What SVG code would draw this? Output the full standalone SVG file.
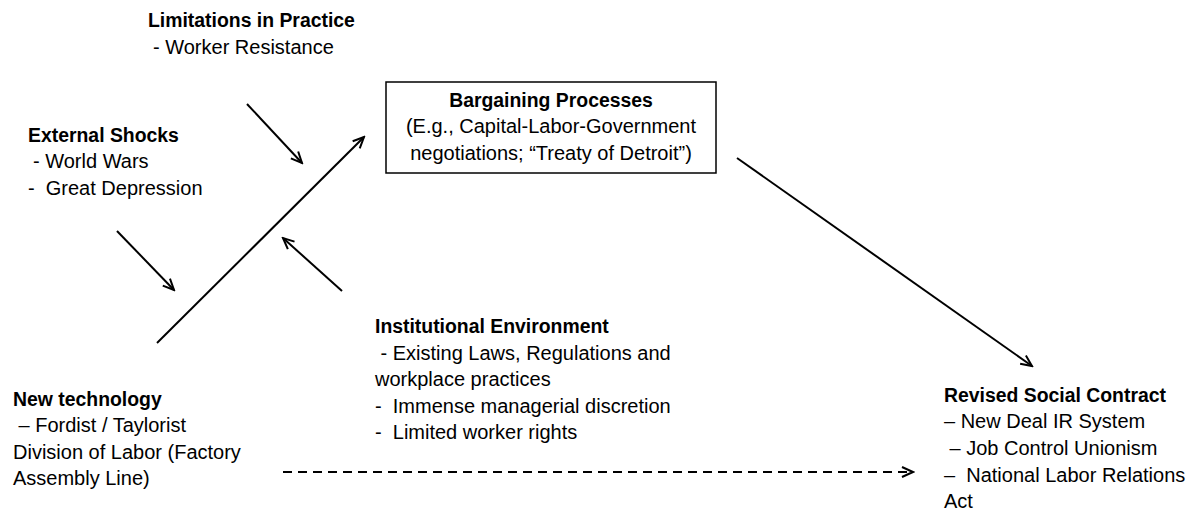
<svg xmlns="http://www.w3.org/2000/svg" width="1196" height="513" viewBox="0 0 1196 513">
<style>
text{font-family:"Liberation Sans",Arial,sans-serif;font-size:20px;fill:#000}
.b{font-weight:bold;font-size:19.4px}
.ln{stroke:#000;stroke-width:2;fill:none}
.dash{stroke-dasharray:9 6}
</style>
<defs>
<marker id="ah" markerUnits="userSpaceOnUse" markerWidth="14" markerHeight="14" refX="12" refY="6" orient="auto" viewBox="0 0 14 12">
<path d="M1,1 L12,6 L1,11" fill="none" stroke="#000" stroke-width="2"/>
</marker>
</defs>
<rect width="1196" height="513" fill="#fff"/>
<g id="limitations">
<text x="148" y="27" class="b">Limitations in Practice</text>
<text x="153" y="54">- Worker Resistance</text>
</g>
<g id="external">
<text x="28" y="142" class="b">External Shocks</text>
<text x="33" y="168">- World Wars</text>
<text x="28" y="195" xml:space="preserve">-  Great Depression</text>
</g>
<g id="bargaining">
<rect x="386" y="82" width="330" height="91" fill="#fff" stroke="#000" stroke-width="1.5"/>
<text x="551" y="107" class="b" text-anchor="middle">Bargaining Processes</text>
<text x="551" y="133" text-anchor="middle">(E.g., Capital-Labor-Government</text>
<text x="551" y="160" text-anchor="middle">negotiations; “Treaty of Detroit”)</text>
</g>
<g id="institutional">
<text x="375" y="333" class="b">Institutional Environment</text>
<text x="375" y="360" xml:space="preserve"> - Existing Laws, Regulations and</text>
<text x="375" y="386">workplace practices</text>
<text x="375" y="413" xml:space="preserve">-  Immense managerial discretion</text>
<text x="375" y="439" xml:space="preserve">-  Limited worker rights</text>
</g>
<g id="newtech">
<text x="13" y="406" class="b">New technology</text>
<text x="13" y="432" xml:space="preserve"> – Fordist / Taylorist</text>
<text x="13" y="459">Division of Labor (Factory</text>
<text x="13" y="485">Assembly Line)</text>
</g>
<g id="revised">
<text x="944" y="402" class="b">Revised Social Contract</text>
<text x="944" y="428">– New Deal IR System</text>
<text x="944" y="455" xml:space="preserve"> – Job Control Unionism</text>
<text x="944" y="482" xml:space="preserve">–  National Labor Relations</text>
<text x="944" y="508">Act</text>
</g>
<g id="connectors">
<line class="ln" x1="157" y1="343" x2="364" y2="137" marker-end="url(#ah)"/>
<line class="ln" x1="247" y1="104" x2="302" y2="163" marker-end="url(#ah)"/>
<line class="ln" x1="117" y1="231" x2="174" y2="290" marker-end="url(#ah)"/>
<line class="ln" x1="342" y1="291" x2="283" y2="238" marker-end="url(#ah)"/>
<line class="ln" x1="737" y1="158" x2="1032" y2="366" marker-end="url(#ah)"/>
<line class="ln dash" x1="283" y1="472" x2="913" y2="472" marker-end="url(#ah)"/>
</g>
</svg>
